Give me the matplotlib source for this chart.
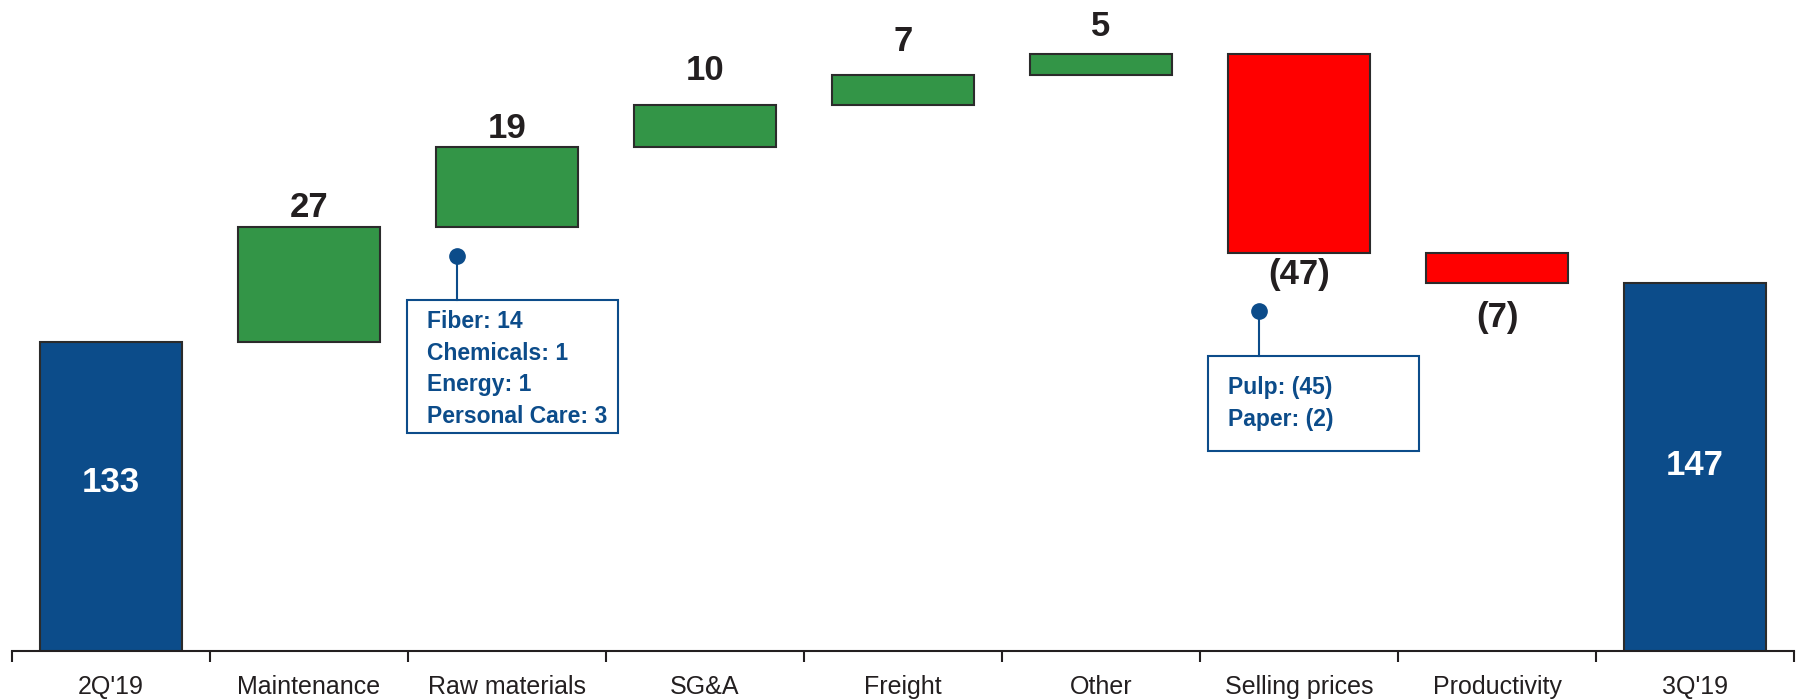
import matplotlib.pyplot as plt
import numpy as np

# data
categories = ["2Q'19", "Maintenance", "Raw materials", "SG&A", "Freight",
              "Other", "Selling prices", "Productivity", "3Q'19"]
start_value = 133
deltas = [27, 19, 10, 7, 5, -47, -7]
end_value = 147

raw_breakdown = ["Fiber: 14", "Chemicals: 1", "Energy: 1", "Personal Care: 3"]
price_breakdown = ["Pulp: (45)", "Paper: (2)"]

BLUE = "#0c4c8a"
GREEN = "#339547"
RED = "#ff0000"
EDGE = "#2b2b2b"
TXT = "#231f20"
FONT = ["Liberation Sans Narrow", "Liberation Sans", "DejaVu Sans"]

fig = plt.figure(figsize=(18, 7), dpi=100)
ax = fig.add_axes([12 / 1800, 0.07, 1782 / 1800, 0.93])

x = np.arange(len(categories))
width = 0.72

# base bars
ax.bar(x[0], start_value, width, color=BLUE, edgecolor=EDGE, linewidth=1.5)
ax.bar(x[-1], end_value, width, color=BLUE, edgecolor=EDGE, linewidth=1.5)

# floating bars
running = start_value
bottoms = []
for i, d in enumerate(deltas):
    bottoms.append(running if d > 0 else running + d)
    running += d
colors = [GREEN if d > 0 else RED for d in deltas]
ax.bar(x[1:-1], np.abs(deltas), width, bottom=bottoms, color=colors,
       edgecolor=EDGE, linewidth=1.5)

# value labels (offsets in pixels, set by hand like the original)
label_offsets = [20, 18, 34, 33, 27, 22, 35]
for i, d in enumerate(deltas):
    if d > 0:
        y = bottoms[i] + d
        txt = f"{d}"
        off = label_offsets[i]
    else:
        y = bottoms[i]
        txt = f"({-d})"
        off = -label_offsets[i]
    ax.annotate(txt, (x[i + 1], y), xytext=(0, off), textcoords="offset pixels",
                ha="center", va="center", fontsize=25, fontweight="bold",
                color=TXT, family=FONT)

ax.text(x[0], 99.7, f"{start_value}", ha="center", va="center", fontsize=25,
        fontweight="bold", color="white", family=FONT)
ax.text(x[-1], 103.9, f"{end_value}", ha="center", va="center", fontsize=25,
        fontweight="bold", color="white", family=FONT)


# callout boxes
def callout(dot, box, lines, text_x, text_y):
    x0, x1, y0, y1 = box
    ax.add_patch(plt.Rectangle((x0, y0), x1 - x0, y1 - y0, fill=False,
                               edgecolor=BLUE, linewidth=1.5, zorder=3))
    ax.plot([dot[0], dot[0]], [dot[1], y1], color=BLUE, linewidth=1.5, zorder=3)
    ax.plot(dot[0], dot[1], "o", color=BLUE, markersize=11, zorder=4)
    for k, line in enumerate(lines):
        ax.annotate(line, (text_x, text_y), xytext=(0, -31.5 * k),
                    textcoords="offset pixels", ha="left", va="center",
                    fontsize=16.5, fontweight="bold", color=BLUE, family=FONT)


callout((1.747, 153.3), (1.495, 2.561, 111.5, 142.9), raw_breakdown, 1.596, 137.7)
callout((5.798, 140.3), (5.540, 6.606, 107.2, 129.7), price_breakdown, 5.641, 122.1)

# axes styling
ax.set_xlim(-0.5, len(categories) - 0.5)
ax.set_ylim(60, 213.7)
for s in ["top", "right", "left"]:
    ax.spines[s].set_visible(False)
ax.spines["bottom"].set_linewidth(1.5)
ax.spines["bottom"].set_color(TXT)
ax.set_yticks([])
ax.set_xticks(x)
ax.set_xticklabels(categories, fontsize=18, color=TXT, family=FONT)
ax.set_xticks(np.arange(len(categories) + 1) - 0.5, minor=True)
ax.tick_params(axis="x", which="major", length=0, pad=17)
ax.tick_params(axis="x", which="minor", length=8, width=1.5, color=TXT)

fig.savefig("out.png", dpi=100)
